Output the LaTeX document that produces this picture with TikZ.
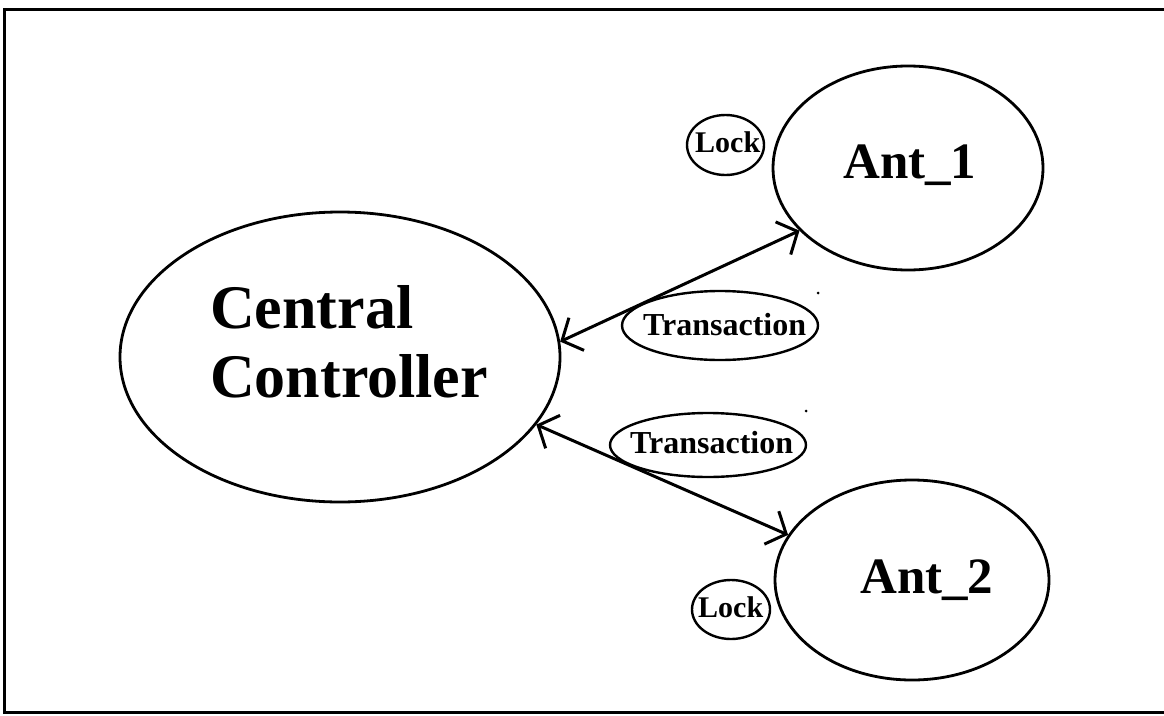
\documentclass[tikz,border=0pt]{standalone}
\usepackage{fontspec}
\setmainfont{Liberation Serif}
\usetikzlibrary{shapes.geometric,arrows.meta}

\tikzset{
  oval/.style={draw, ellipse, line width=2.8pt, inner sep=0pt},
  smalloval/.style={draw, ellipse, line width=2.4pt, inner sep=0pt},
  lbl/.style={anchor=base west, inner sep=0pt, font=\bfseries},
  link/.style={line width=3pt, {Straight Barb[length=16pt,width=36pt,line width=3pt]}-{Straight Barb[length=16pt,width=36pt,line width=3pt]}},
  frame/.style={line width=3pt}
}

\begin{document}
\begin{tikzpicture}[x=1pt,y=-1pt]
  \useasboundingbox (0,0) rectangle (1164,715);
  \fill[white] (0,0) rectangle (1164,715);

  % outer frame, open on the right
  \draw[frame] (1164,9) -- (4,9) -- (4,712) -- (1164,712);

  % main ovals
  \node[oval, minimum width=440pt, minimum height=290pt] (cc) at (340,357) {};
  \node[oval, minimum width=270pt, minimum height=204pt] (ant1) at (908,168) {};
  \node[oval, minimum width=274pt, minimum height=200pt] (ant2) at (912,580) {};

  % small ovals
  \node[smalloval, minimum width=77pt, minimum height=60pt] (lock1) at (725.5,145) {};
  \node[smalloval, minimum width=78pt, minimum height=59pt] (lock2) at (731,609.5) {};
  \node[smalloval, minimum width=196pt, minimum height=69pt] (tr1) at (720,325.5) {};
  \node[smalloval, minimum width=196pt, minimum height=64pt] (tr2) at (708,445) {};

  % texts
  \node[lbl, font=\bfseries\fontsize{62}{69}\selectfont] (cctop) at (210,328) {Central};
  \node[lbl, font=\bfseries\fontsize{62}{69}\selectfont] (ccbot) at (210,397) {Controller};
  \node[lbl, font=\bfseries\fontsize{51}{56}\selectfont] (ant1txt) at (843,178) {Ant\_1};
  \node[lbl, font=\bfseries\fontsize{51}{56}\selectfont] (ant2txt) at (860,593) {Ant\_2};
  \node[lbl, font=\bfseries\fontsize{30}{34}\selectfont] (lock1txt) at (695,152) {Lock};
  \node[lbl, font=\bfseries\fontsize{30}{34}\selectfont] (lock2txt) at (698,617) {Lock};
  \node[lbl, font=\bfseries\fontsize{32}{36}\selectfont] (tr1txt) at (643,335) {Transaction};
  \node[lbl, font=\bfseries\fontsize{32}{36}\selectfont] (tr2txt) at (630,453) {Transaction};

  % two-way links
  \draw[link] (cc.4.5) -- (ant1.210);
  \draw[link] (cc.-19) -- (ant2.160);

  % specks
  \coordinate (speck1) at (818,293);
  \coordinate (speck2) at (806,411);
  \fill (speck1) circle (1.5pt);
  \fill (speck2) circle (1.5pt);
\end{tikzpicture}
\end{document}
